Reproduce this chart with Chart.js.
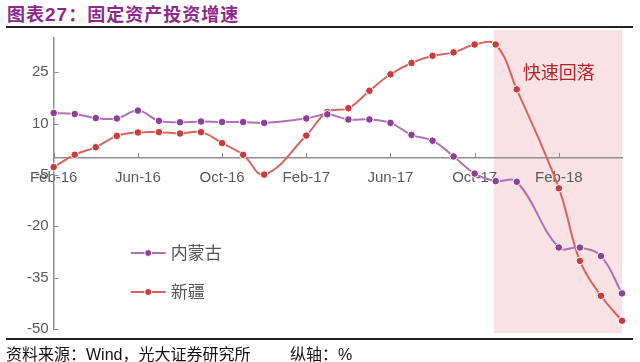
<!DOCTYPE html>
<html>
<head>
<meta charset="utf-8">
<script src="https://cdn.jsdelivr.net/npm/chart.js@4.4.0/dist/chart.umd.min.js"></script>
<style>
body { margin: 0; background: #fff; }
#wrap { position: relative; width: 640px; height: 362px; overflow: hidden; font-family: 'Noto Sans CJK SC', sans-serif; }
#title { position: absolute; left: 7px; top: 0px; font-size: 18px; font-weight: bold; color: #8a2a8c; letter-spacing: 1px; white-space: nowrap; }
#title span { font-family: 'Liberation Sans', Arial, sans-serif; font-size: 19px; }
.rule { position: absolute; left: 6px; width: 627px; height: 2px; background: #222; }
.foot { position: absolute; top: 341px; font-size: 16px; color: #111; white-space: nowrap; }
.foot span { font-family: 'Liberation Sans', Arial, sans-serif; }
canvas { position: absolute; left: 0; top: 0; }
</style>
</head>
<body>
<div id="wrap">
  <div id="title">图表<span>27</span>：固定资产投资增速</div>
  <div class="rule" style="top:26px"></div>
  <canvas id="fixedInvestment" width="640" height="362"></canvas>
  <div class="rule" style="top:338px"></div>
  <div class="foot" style="left:6px">资料来源：<span>Wind</span>，光大证券研究所</div>
  <div class="foot" style="left:290px">纵轴：<span>%</span></div>
</div>
<script>
// months (Jan has no separate release, left empty)
const months = ['Feb-16', 'Mar-16', 'Apr-16', 'May-16', 'Jun-16', 'Jul-16', 'Aug-16', 'Sep-16', 'Oct-16', 'Nov-16', 'Dec-16',
    'Jan-17', 'Feb-17', 'Mar-17', 'Apr-17', 'May-17', 'Jun-17', 'Jul-17', 'Aug-17', 'Sep-17', 'Oct-17', 'Nov-17', 'Dec-17',
    'Jan-18', 'Feb-18', 'Mar-18', 'Apr-18', 'May-18'];
const innerMongolia = [13.1, 12.8, 11.6, 11.5, 13.8, 10.8, 10.4, 10.6, 10.45, 10.45, 10.2,
    null, 11.5, 12.7, 11.2, 11.2, 10.2, 6.7, 5.0, 0.4, -4.6, -6.8, -7.0,
    null, -26.2, -26.2, -28.7, -39.6];
const xinjiang = [-2.7, 0.9, 3.1, 6.4, 7.4, 7.5, 7.1, 7.5, 4.3, 0.9, -4.9,
    null, 6.5, 13.4, 14.5, 19.6, 24.4, 27.7, 29.8, 30.8, 33.1, 33.1, 20.0,
    null, -8.9, -30.1, -40.3, -47.6];
const yTicks = [-50, -35, -20, -5, 10, 25];
const shadeFrom = 'Nov-17';
const shadeTo = 'May-18';

const purple = '#ad72b4', purpleDot = '#8e3f97';
const red = '#d8645f', redDot = '#c93c3c';
const axisColor = '#8f8f8f';

Chart.defaults.font.family = 'Liberation Sans';
Chart.defaults.color = '#595959';

const decor = {
    id: 'decor',
    beforeDraw(chart) {
        const { ctx, chartArea, scales: { x } } = chart;
        const l = x.getPixelForValue(months.indexOf(shadeFrom)) - 2;
        const r = x.getPixelForValue(months.indexOf(shadeTo));
        ctx.save();
        ctx.fillStyle = '#f8e2e3';
        ctx.fillRect(l, chartArea.top - 8, r - l, chartArea.bottom - chartArea.top + 12);
        ctx.restore();
    },
    afterDraw(chart) {
        const { ctx, chartArea, scales: { x, y } } = chart;
        ctx.save();
        // inward tick marks
        ctx.strokeStyle = axisColor;
        ctx.lineWidth = 1;
        ctx.beginPath();
        yTicks.forEach(function (v) {
            const py = Math.round(y.getPixelForValue(v)) + 0.5;
            ctx.moveTo(chartArea.left, py);
            ctx.lineTo(chartArea.left + 5, py);
        });
        const y0 = y.getPixelForValue(0);
        months.forEach(function (m, i) {
            if (i % 4 === 0) {
                const px = Math.round(x.getPixelForValue(i)) + 0.5;
                ctx.moveTo(px, y0);
                ctx.lineTo(px, y0 - 5);
            }
        });
        ctx.stroke();

        // note
        ctx.fillStyle = '#b3242b';
        ctx.font = '18px "Noto Sans CJK SC"';
        ctx.textAlign = 'center';
        ctx.textBaseline = 'middle';
        ctx.fillText('快速回落', x.getPixelForValue(24), y.getPixelForValue(25));

        // legend
        const items = [['内蒙古', purple, purpleDot], ['新疆', red, redDot]];
        ctx.textAlign = 'left';
        ctx.font = '17px "Noto Sans CJK SC"';
        items.forEach(function (it, k) {
            const ly = chartArea.top + 215 + k * 39;
            const lx = chartArea.left + 77;
            ctx.strokeStyle = it[1];
            ctx.lineWidth = 2;
            ctx.beginPath();
            ctx.moveTo(lx, ly);
            ctx.lineTo(lx + 35, ly);
            ctx.stroke();
            ctx.fillStyle = it[2];
            ctx.strokeStyle = '#fff';
            ctx.lineWidth = 1;
            ctx.beginPath();
            ctx.arc(lx + 17.5, ly, 3.5, 0, Math.PI * 2);
            ctx.fill();
            ctx.stroke();
            ctx.fillStyle = '#555';
            ctx.fillText(it[0], lx + 40, ly);
        });
        ctx.restore();
    }
};

var ctx = document.getElementById('fixedInvestment');
var myChart = new Chart(ctx, {
    type: 'line',
    data: {
        labels: months,
        datasets: [
            {
                label: '内蒙古',
                data: innerMongolia,
                borderColor: purple,
                backgroundColor: purpleDot,
                pointBackgroundColor: purpleDot,
                pointBorderColor: '#fff',
                pointBorderWidth: 1,
                pointRadius: 3.8,
                borderWidth: 2,
                tension: 0.4,
                spanGaps: true,
            },
            {
                label: '新疆',
                data: xinjiang,
                borderColor: red,
                backgroundColor: redDot,
                pointBackgroundColor: redDot,
                pointBorderColor: '#fff',
                pointBorderWidth: 1,
                pointRadius: 3.8,
                borderWidth: 2,
                tension: 0.4,
                spanGaps: true,
            },
        ]
    },
    options: {
        responsive: false,
        animation: false,
        layout: {
            padding: { left: 22, right: 18, top: 38, bottom: 33 },
        },
        plugins: {
            legend: { display: false },
            tooltip: { enabled: false },
        },
        scales: {
            x: {
                position: { y: 0 },
                offset: false,
                grid: { display: false, drawTicks: false },
                border: { display: true, color: axisColor, width: 1.5 },
                ticks: {
                    autoSkip: false,
                    maxRotation: 0,
                    padding: 11,
                    font: { size: 15 },
                    callback: function (val, i) {
                        return i % 4 === 0 ? months[i] : '';
                    },
                },
            },
            y: {
                min: -50,
                max: 35,
                afterBuildTicks: function (scale) {
                    scale.ticks = yTicks.map(function (v) { return { value: v }; });
                },
                grid: { display: false, drawTicks: false },
                border: { display: true, color: axisColor, width: 1.5 },
                ticks: {
                    padding: 5,
                    font: { size: 15 },
                },
            },
        },
    },
    plugins: [decor],
});
</script>
</body>
</html>
